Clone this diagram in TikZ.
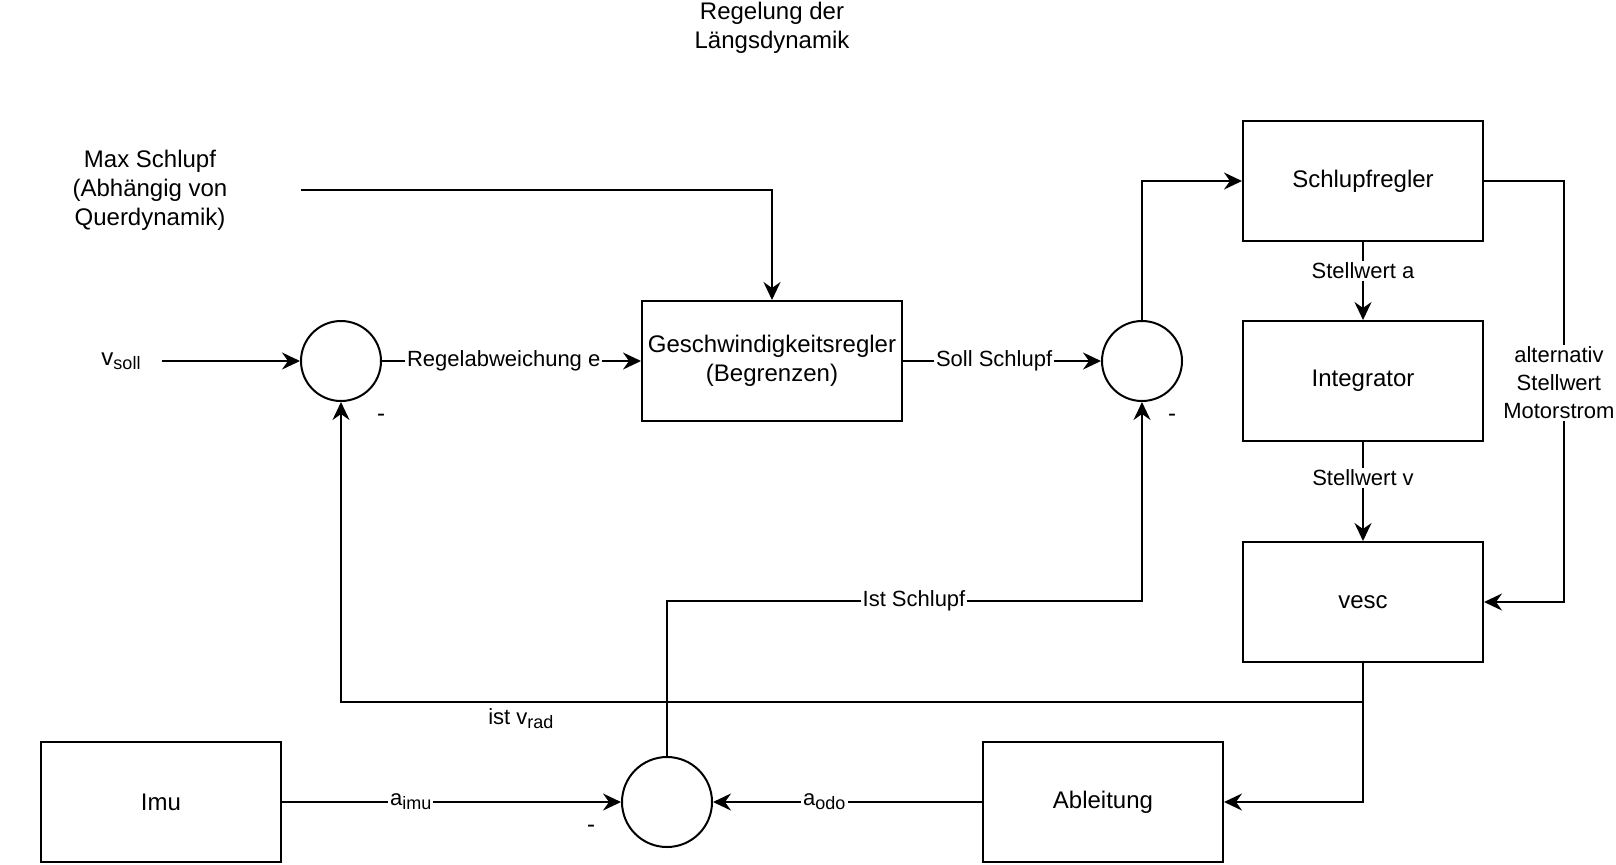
\documentclass[tikz,border=0pt]{standalone}
\usepackage{fontspec}
\setmainfont{Liberation Sans}
\usetikzlibrary{arrows.meta}

\newcommand{\lowidx}[1]{\raisebox{-0.35ex}{\fontsize{9}{10}\selectfont #1}}

\tikzset{
  block/.style={draw, line width=1pt, minimum width=120pt, minimum height=60pt, inner sep=0pt, align=center},
  sumpoint/.style={draw, circle, line width=1pt, minimum size=40pt, inner sep=0pt},
  elabel/.style={fill=white, inner sep=1pt, font=\fontsize{11}{14}\selectfont},
  flow/.style={line width=1pt, -{Stealth[length=9pt,width=8.5pt,inset=3pt]}},
}

\begin{document}
\begin{tikzpicture}[x=0.5pt,y=0.5pt,yscale=-1,xscale=1,font=\fontsize{12}{14.5}\selectfont]
\useasboundingbox (0,0) rectangle (1616,864);

% Text Node
\node (title) [align=center] at (772,28) {Regelung der\\Längsdynamik};
% Text Node
\node (maxs) [align=center, minimum width=151pt, inner sep=0pt] at (150,190) {Max Schlupf\\(Abhängig von\\Querdynamik)};
% Text Node
\node (vsoll) [minimum width=41pt, inner sep=0pt] at (121,361) {v\lowidx{soll}};

%Shape: Circle
\node (sum1) [sumpoint] at (341,361) {};
%Shape: Rectangle
\node (geschw) [block, minimum width=130pt] at (772,361) {Geschwindigkeitsregler\\(Begrenzen)};
%Shape: Circle
\node (sum2) [sumpoint] at (1142,361) {};
%Shape: Rectangle
\node (schlupf) [block] at (1363,181) {Schlupfregler};
\node (integ) [block] at (1363,381) {Integrator};
\node (vesc) [block] at (1363,602) {vesc};
\node (ableit) [block] at (1103,802) {Ableitung};
\node (imu) [block] at (161,802) {Imu};
%Shape: Circle
\node (sum3) [sumpoint, minimum size=45pt] at (667,802) {};

% Text Node
\node (minus1) at (381,418) {-};
\node (minus2) at (1172,418) {-};
\node (minus3) at (591,829) {-};

\coordinate (altup) at (1563.5,181);
\coordinate (altdown) at (1563.5,602);
\coordinate (radfb) at (1363,702);
\coordinate (slipbend) at (1142,601);

%Straight Lines
\draw [flow] (vsoll) -- (sum1);
\draw [flow] (sum1) -- node[elabel, pos=0.47] {Regelabweichung e} (geschw);
\draw [flow] (geschw) -- node[elabel, pos=0.46] {Soll Schlupf} (sum2);
\draw [flow] (maxs.east) -| (geschw.north);
\draw [flow] (sum2.north) |- (schlupf.west);
\draw [flow] (schlupf) -- node[elabel, pos=0.37] {Stellwert a} (integ);
\draw [flow] (integ) -- node[elabel, pos=0.36] {Stellwert v} (vesc);
\draw [flow] (schlupf.east) -- (altup) -- node[elabel, align=center, pos=0.48, xshift=-2.3pt] {alternativ\\Stellwert\\Motorstrom} (altdown) -- (vesc.east);
\draw [flow] (vesc.south) -- (radfb) -| node[pos=0.412, yshift=-8.5pt, font=\fontsize{11}{14}\selectfont] {ist v\lowidx{rad}} (sum1.south);
\draw [flow] (vesc.south) |- (ableit.east);
\draw [flow] (ableit) -- node[elabel, pos=0.586] {a\lowidx{odo}} (sum3);
\draw [flow] (imu) -- node[elabel, pos=0.38] {a\lowidx{imu}} (sum3);
\draw [flow] (sum3.north) |- node[elabel, pos=0.76] {Ist Schlupf} (slipbend) -- (sum2.south);

\end{tikzpicture}
\end{document}
